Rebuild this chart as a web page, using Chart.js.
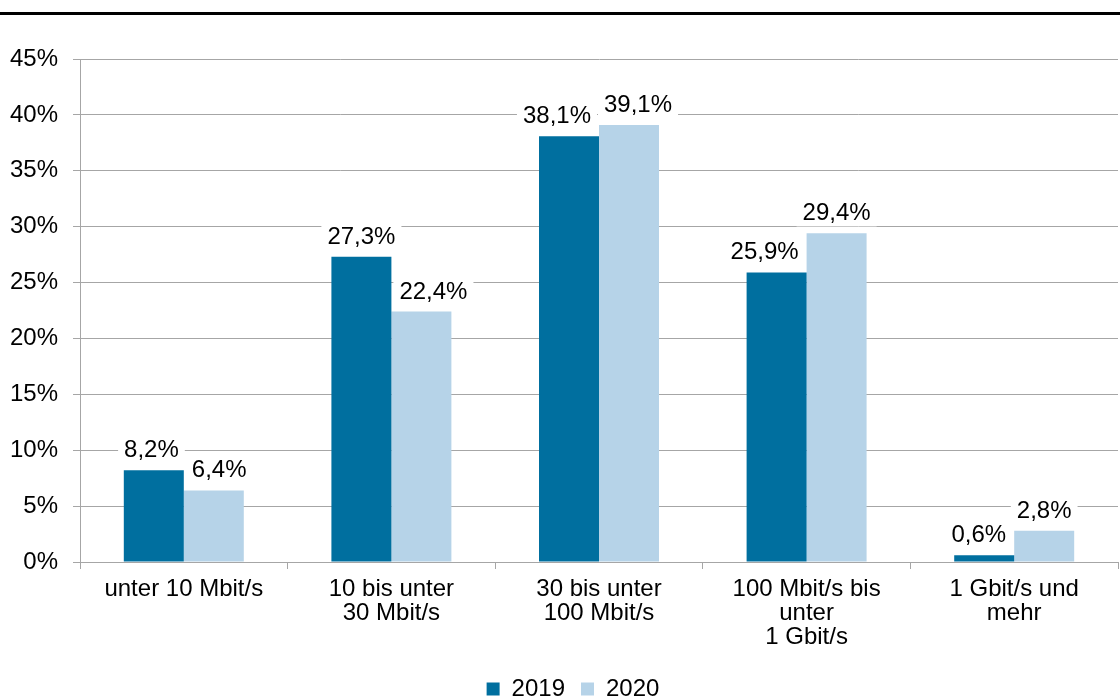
<!DOCTYPE html>
<html>
<head>
<meta charset="utf-8">
<script src="https://cdn.jsdelivr.net/npm/chart.js@4"></script>
<style>
  html, body { margin: 0; padding: 0; background: #fff; }
  #wrap { width: 1120px; height: 697px; }
</style>
</head>
<body>
<div id="wrap"><canvas id="bbChart" width="1120" height="697"></canvas></div>
<script>
// Kategorien und Werte (Anteil in %)
const categories = [
    ['unter 10 Mbit/s'],
    ['10 bis unter', '30 Mbit/s'],
    ['30 bis unter', '100 Mbit/s'],
    ['100 Mbit/s bis', 'unter', '1 Gbit/s'],
    ['1 Gbit/s und', 'mehr']
];
const years = ['2019', '2020'];
const values2019 = [8.2, 27.3, 38.1, 25.9, 0.6];
const values2020 = [6.4, 22.4, 39.1, 29.4, 2.8];
const yTicks = [0, 5, 10, 15, 20, 25, 30, 35, 40, 45];

const FONT = 'Liberation Sans, Arial, sans-serif';
const FS = 24;
const fmt = v => v.toFixed(1).replace('.', ',') + '%';

// Linie oben über die ganze Breite
const topLine = {
    id: 'topLine',
    beforeDraw(chart) {
        const c = chart.ctx;
        c.save();
        c.fillStyle = '#000';
        c.fillRect(0, 12, chart.width, 3);
        c.restore();
    }
};

// Legende etwas nach unten / rechts schieben
const legendShift = {
    id: 'legendShift',
    afterLayout(chart) {
        const lg = chart.legend;
        lg.top += 14;
        lg.bottom += 14;
        lg.left += 14;
        lg.right += 14;
    }
};

// Position der Werte-Labels berechnen (Überlappungen vermeiden wie in Excel)
function labelBoxes(chart) {
    const c = chart.ctx;
    c.save();
    c.font = FS + 'px ' + FONT;
    const m0 = chart.getDatasetMeta(0).data;
    const m1 = chart.getDatasetMeta(1).data;
    const out = [];
    const gap = 8;
    for (let j = 0; j < m0.length; j++) {
        const pair = [m0[j], m1[j]].map((bar, i) => {
            const txt = fmt(chart.data.datasets[i].data[j]);
            const w = c.measureText(txt).width;
            return { txt, w, x: bar.x, base: bar.y - 13, bar };
        });
        // nicht in den Nachbarbalken ragen
        const [a, b] = pair;
        if (b.bar.y < a.base + 6 && a.x + a.w / 2 > b.bar.x - b.bar.width / 2 - gap) {
            a.x = b.bar.x - b.bar.width / 2 - gap - a.w / 2;
        }
        if (a.bar.y < b.base + 6 && b.x - b.w / 2 < a.bar.x + a.bar.width / 2 + gap) {
            b.x = a.bar.x + a.bar.width / 2 + gap + b.w / 2;
        }
        // Labels untereinander
        if (Math.abs(a.base - b.base) < FS && b.x - b.w / 2 < a.x + a.w / 2 + 13) {
            if (a.bar.y < b.bar.y) a.x = b.x - b.w / 2 - 13 - a.w / 2;
            else b.x = a.x + a.w / 2 + 13 + b.w / 2;
        }
        out.push(a, b);
    }
    c.restore();
    return out;
}

const valueLabels = {
    id: 'valueLabels',
    beforeDatasetsDraw(chart) {
        const c = chart.ctx;
        c.save();
        c.fillStyle = '#fff';
        labelBoxes(chart).forEach(l => {
            c.fillRect(l.x - l.w / 2 - 6, l.base - 22, l.w + 12, 28);
        });
        c.restore();
    },
    afterDatasetsDraw(chart) {
        const c = chart.ctx;
        c.save();
        c.font = FS + 'px ' + FONT;
        c.textAlign = 'center';
        c.textBaseline = 'alphabetic';
        c.fillStyle = '#000';
        labelBoxes(chart).forEach(l => c.fillText(l.txt, l.x, l.base));
        c.restore();
    }
};

const ctx = document.getElementById('bbChart').getContext('2d');

new Chart(ctx, {
    type: 'bar',
    data: {
        labels: categories,
        datasets: [
            {
                label: years[0],
                data: values2019,
                backgroundColor: '#006f9f',
                categoryPercentage: 0.578,
                barPercentage: 1.0
            },
            {
                label: years[1],
                data: values2020,
                backgroundColor: '#b6d3e8',
                categoryPercentage: 0.578,
                barPercentage: 1.0
            }
        ]
    },
    options: {
        responsive: false,
        animation: false,
        layout: { padding: { top: 59, right: 2, left: 0, bottom: 0 } },
        plugins: {
            legend: {
                position: 'bottom',
                labels: {
                    boxWidth: 13,
                    boxHeight: 13,
                    padding: 16,
                    color: '#000',
                    font: { family: FONT, size: FS }
                }
            },
            tooltip: { enabled: false }
        },
        scales: {
            x: {
                offset: true,
                grid: { offset: true, drawOnChartArea: false, drawTicks: true, tickLength: 7, color: '#a6a6a6' },
                border: { color: '#a6a6a6' },
                ticks: {
                    color: '#000',
                    padding: 8,
                    maxRotation: 0,
                    autoSkip: false,
                    font: { family: FONT, size: FS, lineHeight: 1.0 }
                },
                afterFit(scale) { scale.height = 85; }
            },
            y: {
                min: 0,
                max: 45,
                afterBuildTicks(scale) { scale.ticks = yTicks.map(v => ({ value: v })); },
                grid: { color: '#a6a6a6', tickLength: 7 },
                border: { color: '#a6a6a6' },
                ticks: {
                    color: '#000',
                    padding: 15,
                    font: { family: FONT, size: FS },
                    callback: v => v + '%'
                },
                afterFit(scale) { scale.width = 80; }
            }
        }
    },
    plugins: [topLine, legendShift, valueLabels]
});
</script>
</body>
</html>
